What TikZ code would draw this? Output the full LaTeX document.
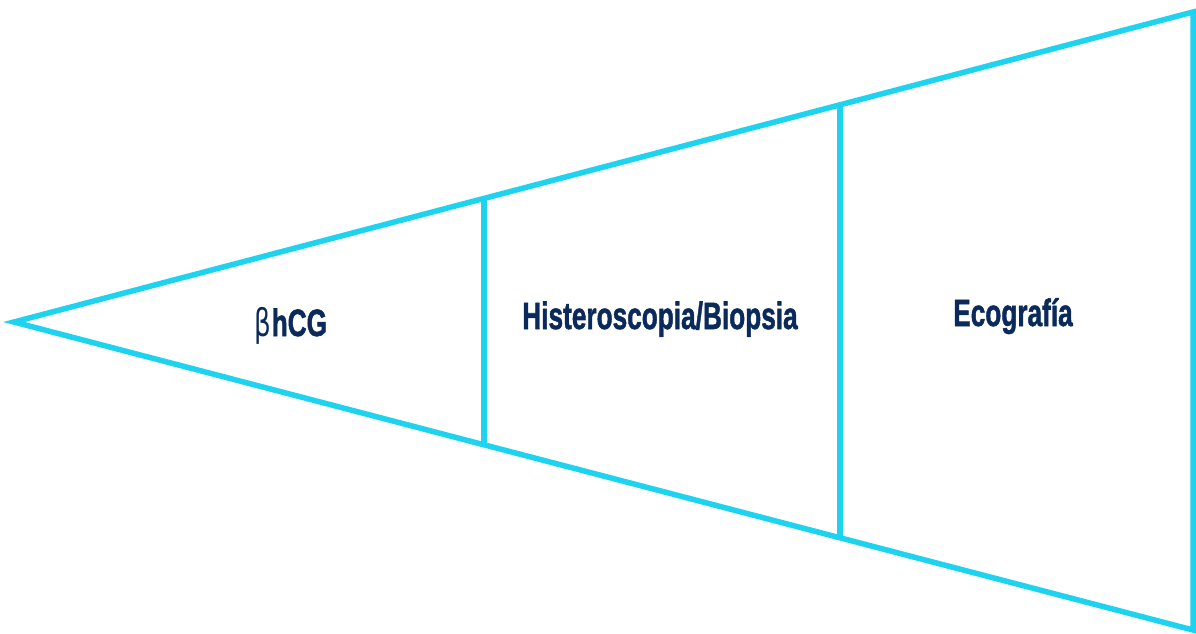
\documentclass[tikz,border=0pt]{standalone}
\usepackage{fontspec}
\setmainfont{Liberation Sans}[BoldFont=Liberation Sans Bold, BoldFeatures={FakeBold=1.6}]
\newfontfamily\betafont{DejaVu Sans}
\usetikzlibrary{calc}
\definecolor{cyanline}{HTML}{1DD3F0}
\definecolor{navytext}{HTML}{0B2A5C}
\tikzset{
  funnel/.style={draw=cyanline, line width=5.5pt, line join=miter},
  divider/.style={draw=cyanline, line width=5.5pt},
  label/.style={text=navytext, font=\bfseries\fontsize{38}{38}\selectfont, inner sep=0pt, anchor=base}
}
\begin{document}
\begin{tikzpicture}[x=1pt,y=-1pt]
\useasboundingbox (0,0) rectangle (1196,634);
\coordinate (apex) at (14,322);
\coordinate (tr) at (1193,12);
\coordinate (br) at (1193,630);
\draw[funnel] (apex) -- (tr) -- (br) -- cycle;
\coordinate (t1) at ($(apex)!0.3986!(tr)$);
\coordinate (b1) at ($(apex)!0.3986!(br)$);
\coordinate (t2) at ($(apex)!0.7006!(tr)$);
\coordinate (b2) at ($(apex)!0.7006!(br)$);
\draw[divider] (t1) -- (b1);
\draw[divider] (t2) -- (b2);
\node[label] (l1) at (291,336) {\scalebox{0.69}[1]{{\mdseries\betafont β}hCG}};
\node[label] (l2) at (660,329) {\scalebox{0.69}[1]{Histeroscopia/Biopsia}};
\node[label] (l3) at (1013,326) {\scalebox{0.69}[1]{Ecografía}};
\end{tikzpicture}
\end{document}
